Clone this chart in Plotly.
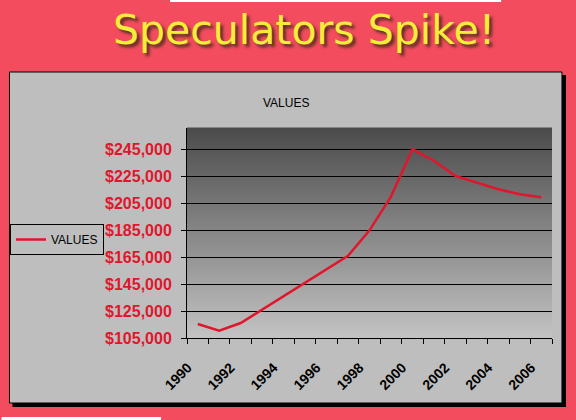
import plotly.graph_objects as go

years = list(range(1990, 2007))
values = [115400, 110400, 116100, 126000, 135800, 145700, 155600, 166000,
          184900, 209900, 245000, 236500, 225200, 220300, 215400, 211700, 209400]
x_labels = [1990, 1992, 1994, 1996, 1998, 2000, 2002, 2004, 2006]
y_ticks = [105000, 125000, 145000, 165000, 185000, 205000, 225000, 245000]
y_ticktext = ["$" + format(v, ",d") for v in y_ticks]

W, H = 576, 420
L, R, T, B = 186, 552, 128, 338  # plot area pixel box


def px_x(p):
    return (p - L) / (R - L)


def px_y(p):
    return (B - p) / (B - T)


fig = go.Figure()
fig.add_trace(go.Scatter(
    x=years, y=values, mode="lines", name="VALUES",
    line=dict(color="#E0162C", width=2.5),
))

shapes = []
# white strips at the image edges
shapes.append(dict(type="rect", xref="paper", yref="paper", layer="below",
                   x0=px_x(169), x1=px_x(501), y0=px_y(2), y1=px_y(0),
                   fillcolor="#FFFFFF", line=dict(width=0)))
shapes.append(dict(type="rect", xref="paper", yref="paper", layer="below",
                   x0=px_x(0), x1=px_x(160), y0=px_y(420), y1=px_y(417),
                   fillcolor="#FFFFFF", line=dict(width=0)))
# panel shadow
shapes.append(dict(type="rect", xref="paper", yref="paper", layer="below",
                   x0=px_x(11), x1=px_x(566), y0=px_y(407), y1=px_y(75),
                   fillcolor="#000000", line=dict(width=0)))
# gray panel
shapes.append(dict(type="rect", xref="paper", yref="paper", layer="below",
                   x0=px_x(8), x1=px_x(562), y0=px_y(403), y1=px_y(72),
                   fillcolor="#BEBEBE", line=dict(color="#000000", width=1)))
# gradient plot background
n = 60
top = (0x4C, 0x4C, 0x4C)
bot = (0xC2, 0xC2, 0xC2)
for i in range(n):
    t = i / (n - 1)
    c = tuple(int(round(bot[k] + (top[k] - bot[k]) * t)) for k in range(3))
    shapes.append(dict(type="rect", xref="x domain", yref="y domain", layer="below",
                       x0=0, x1=1, y0=i / n, y1=(i + 1) / n + 0.002,
                       fillcolor="rgb(%d,%d,%d)" % c, line=dict(width=0)))

fig.update_layout(
    width=W, height=H,
    margin=dict(l=L, r=W - R, t=T, b=H - B, pad=0),
    paper_bgcolor="#F34C5E",
    plot_bgcolor="rgba(0,0,0,0)",
    shapes=shapes,
    showlegend=True,
    legend=dict(x=px_x(10), y=px_y(224), xanchor="left", yanchor="top",
                bgcolor="#BEBEBE", bordercolor="#000000", borderwidth=1,
                font=dict(family="Liberation Sans, Arial", size=12, color="#000000"),
                itemwidth=30),
    annotations=[
        dict(text="Speculators Spike!", xref="paper", yref="paper",
             x=px_x(303), y=px_y(30), xanchor="center", yanchor="middle",
             showarrow=False,
             font=dict(family="DejaVu Sans", size=41, color="#F2EE3A",
                       shadow="3px 3px 3px #5a3020")),
        dict(text="VALUES", xref="paper", yref="paper",
             x=px_x(285), y=px_y(103), xanchor="center", yanchor="middle",
             showarrow=False,
             font=dict(family="Liberation Sans, Arial", size=12, color="#000000")),
    ],
    xaxis=dict(
        range=[1989.5, 2006.5], tickmode="array", tickvals=x_labels,
        ticktext=[str(v) for v in x_labels], ticks="", tickangle=-45,
        ticklabelstandoff=15, ticklabelshift=-10,
        showgrid=False, zeroline=False,
        showline=True, linecolor="#000000", linewidth=1,
        tickfont=dict(family="Liberation Sans, Arial", size=14, color="#000000",
                      weight="bold"),
        minor=dict(tickmode="linear", tick0=1989.5, dtick=1, ticks="outside",
                   ticklen=5, tickcolor="#000000", showgrid=False),
    ),
    yaxis=dict(
        range=[105000, 260800], tickmode="array", tickvals=y_ticks,
        ticktext=y_ticktext, ticks="outside", ticklen=5,
        ticklabelstandoff=6,
        tickcolor="#000000", showgrid=True, gridcolor="#000000", gridwidth=1,
        zeroline=False, showline=True, linecolor="#000000", linewidth=1,
        tickfont=dict(family="Liberation Sans, Arial", size=16, color="#E0162C",
                      weight="bold"),
    ),
)

fig.write_html(
    "out.html",
    config={"displayModeBar": False},
    post_script="document.body.style.margin='0';document.body.style.padding='0';"
                "document.body.style.overflow='hidden';",
)
